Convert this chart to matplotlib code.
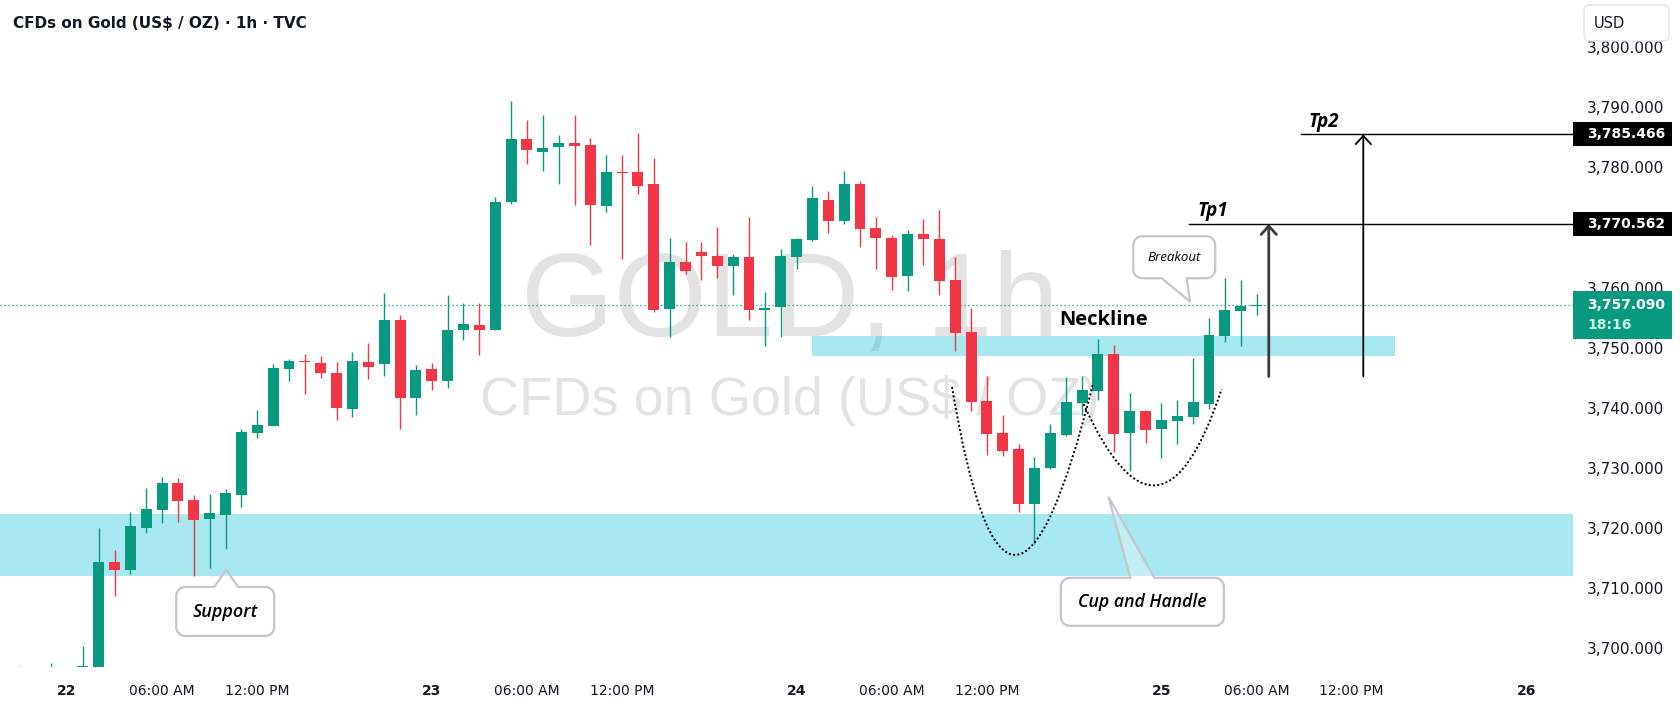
import numpy as np
import matplotlib
matplotlib.use('Agg')
import matplotlib.pyplot as plt
import matplotlib.transforms as mtransforms
from matplotlib.patches import Rectangle, Polygon, FancyBboxPatch, PathPatch
from matplotlib.path import Path

# hourly candles, bar index 0 = 22nd 00:00 (23 bars per trading day)
bar_index = list(range(-3, 76))
opens = [3694.0, 3691.0, 3693.0, 3695.0, 3694.0, 3696.5, 3714.3, 3713.0, 3720.0, 3723.0,
         3727.5, 3724.6, 3721.5, 3722.2, 3725.5, 3735.8, 3737.0, 3746.5, 3747.8, 3747.4,
         3745.8, 3739.8, 3747.6, 3747.2, 3754.6, 3741.7, 3746.4, 3744.5, 3752.9, 3753.8,
         3752.9, 3774.2, 3784.7, 3782.6, 3783.3, 3784.05, 3783.7, 3773.6, 3779.2, 3779.2,
         3777.2, 3756.5, 3764.25, 3765.9, 3765.2, 3763.6, 3765.1, 3756.3, 3756.8, 3765.1,
         3767.9, 3774.6, 3771.0, 3777.2, 3769.9, 3768.2, 3762.0, 3768.9, 3768.1, 3761.25,
         3752.6, 3741.1, 3735.8, 3733.1, 3724.0, 3730.0, 3735.5, 3740.8, 3742.85, 3748.9,
         3735.8, 3739.45, 3736.5, 3737.85, 3738.5, 3740.7, 3752.0, 3756.15, 3757.0]
highs = [3697.0, 3695.5, 3697.5, 3696.5, 3700.3, 3720.0, 3716.3, 3722.6, 3726.6, 3728.5,
         3728.3, 3725.5, 3725.6, 3726.5, 3736.5, 3739.6, 3747.3, 3748.1, 3748.9, 3748.6,
         3747.6, 3749.3, 3750.8, 3759.1, 3755.4, 3747.1, 3747.4, 3758.8, 3757.4, 3757.4,
         3775.1, 3791.0, 3787.9, 3788.7, 3785.4, 3788.7, 3784.9, 3782.0, 3782.0, 3785.7,
         3781.55, 3768.2, 3767.5, 3767.6, 3770.1, 3765.6, 3771.8, 3759.2, 3766.4, 3768.2,
         3776.9, 3776.1, 3779.4, 3777.7, 3771.7, 3768.7, 3769.6, 3771.4, 3772.9, 3765.1,
         3756.6, 3745.3, 3738.8, 3734.0, 3731.8, 3737.3, 3745.1, 3745.3, 3751.4, 3750.4,
         3742.45, 3739.6, 3740.8, 3741.3, 3748.3, 3754.9, 3761.6, 3761.25, 3758.9]
lows = [3689.0, 3690.0, 3692.0, 3692.5, 3693.5, 3696.0, 3708.6, 3712.3, 3719.2, 3720.9,
        3721.0, 3712.0, 3713.4, 3716.5, 3723.5, 3735.0, 3736.9, 3744.5, 3742.3, 3745.0,
        3737.9, 3738.5, 3744.8, 3745.3, 3736.5, 3738.8, 3743.0, 3743.2, 3751.2, 3748.8,
        3752.9, 3773.9, 3780.6, 3779.4, 3777.3, 3773.8, 3767.1, 3772.6, 3764.8, 3775.6,
        3756.0, 3751.8, 3762.3, 3761.3, 3761.6, 3758.7, 3754.6, 3750.3, 3751.8, 3763.0,
        3767.8, 3769.0, 3770.5, 3766.8, 3763.0, 3759.6, 3759.5, 3763.8, 3758.8, 3749.5,
        3739.5, 3732.2, 3732.0, 3722.7, 3717.4, 3729.8, 3735.3, 3738.8, 3741.3, 3732.6,
        3729.5, 3734.1, 3731.6, 3734.0, 3737.3, 3739.8, 3751.0, 3750.3, 3755.5]
closes = [3691.0, 3693.0, 3695.0, 3694.0, 3697.0, 3714.3, 3713.0, 3720.3, 3723.2, 3727.5,
          3724.5, 3721.4, 3722.5, 3725.8, 3736.0, 3737.1, 3746.6, 3747.8, 3747.6, 3745.7,
          3739.9, 3747.8, 3746.8, 3754.6, 3741.7, 3746.3, 3744.5, 3752.9, 3753.9, 3752.9,
          3774.2, 3784.7, 3782.8, 3783.2, 3784.05, 3783.6, 3773.8, 3779.2, 3779.1, 3776.95,
          3756.3, 3764.2, 3762.8, 3765.3, 3763.6, 3765.1, 3756.3, 3756.6, 3765.2, 3768.1,
          3774.9, 3771.0, 3777.2, 3769.8, 3768.3, 3761.8, 3768.9, 3768.0, 3761.1, 3752.5,
          3741.0, 3735.7, 3732.85, 3724.0, 3730.0, 3735.8, 3741.0, 3742.95, 3748.9, 3735.6,
          3739.45, 3736.35, 3737.95, 3738.6, 3740.95, 3752.1, 3756.3, 3757.0, 3757.09]

tick_pos = [0, 6, 12, 23, 29, 35, 46, 52, 58, 69, 75, 81, 92]
tick_text = ['22', '06:00 AM', '12:00 PM', '23', '06:00 AM', '12:00 PM',
             '24', '06:00 AM', '12:00 PM', '25', '06:00 AM', '12:00 PM', '26']
# 3,770 sits under the Tp1 badge on the scale, so it is not listed
price_ticks = [3700, 3710, 3720, 3730, 3740, 3750, 3760, 3780, 3790, 3800]

last_price = 3757.09
tp1 = 3770.562
tp2 = 3785.466
support_zone = (3712.0, 3722.3)
neck_zone = (3748.65, 3751.93)
neck_span = (47.0, 83.7)

cup_curve = [(55.8, 3743.45), (59.8, 3715.5), (64.7, 3744.1)]
handle_curve = [(64.1, 3740.6), (68.7, 3727.1), (72.8, 3743.1)]

UP = '#089981'
DOWN = '#F23645'
ZONE = (0 / 255, 188 / 255, 212 / 255, 0.34)
INK = '#131722'
FONTS = ['Open Sans', 'DejaVu Sans']

fig = plt.figure(figsize=(16.8, 7.1), dpi=100)
ax = fig.add_axes([0, 43 / 710, 1573 / 1680, 667 / 710])
ax.set_xlim(-4.22, 94.95)
ax.set_ylim(3696.86, 3807.84)
for s in ax.spines.values():
    s.set_visible(False)

# watermark
ax.text(0.502, 0.4963, 'GOLD, 1h', transform=ax.transAxes, ha='center', va='baseline',
        fontsize=86, family='Liberation Sans', color='#e3e3e3', zorder=0)
ax.text(0.502, 0.3778, 'CFDs on Gold (US$ / OZ)', transform=ax.transAxes, ha='center',
        va='baseline', fontsize=39, family='Liberation Sans', color='#e3e3e3', zorder=0)

# zones
ax.axhspan(*support_zone, color=ZONE, lw=0, zorder=1)
ax.add_patch(Rectangle((neck_span[0], neck_zone[0]), neck_span[1] - neck_span[0],
                       neck_zone[1] - neck_zone[0], color=ZONE, lw=0, zorder=1))

# current price line
ax.axhline(last_price, color=UP, lw=0.9, ls=(0, (1, 2.2)), zorder=2)

# candles
x = np.array(bar_index)
o, h, l, c = map(np.array, (opens, highs, lows, closes))
colors = np.where(c >= o, UP, DOWN)
ax.vlines(x, l, h, colors=colors, lw=1.0, zorder=3)
ax.bar(x, np.maximum(np.abs(c - o), 0.17), bottom=np.minimum(o, c), width=0.69,
       color=colors, lw=0, zorder=4)

# cup and handle curves
for p0, mid, p2 in (cup_curve, handle_curve):
    ctrl = (2 * mid[0] - (p0[0] + p2[0]) / 2, 2 * mid[1] - (p0[1] + p2[1]) / 2)
    path = Path([p0, ctrl, p2], [Path.MOVETO, Path.CURVE3, Path.CURVE3])
    ax.add_patch(PathPatch(path, fill=False, ec='black', lw=1.4, ls=(0, (1, 1.2)), zorder=5))

# targets
ax.plot([70.75, 96], [tp1, tp1], color='black', lw=1.0, zorder=6)
ax.plot([77.8, 96], [tp2, tp2], color='black', lw=1.0, zorder=6)
ax.annotate('', xy=(75.77, tp1), xytext=(75.77, 3745.2),
            arrowprops=dict(arrowstyle='->,head_length=0.6,head_width=0.55',
                            color='#3a3a3a', lw=2.0, shrinkA=0, shrinkB=0), zorder=6)
ax.annotate('', xy=(81.73, tp2), xytext=(81.73, 3745.2),
            arrowprops=dict(arrowstyle='->,head_length=0.6,head_width=0.55',
                            color='black', lw=1.3, shrinkA=0, shrinkB=0), zorder=6)
ax.text(71.25, 3771.9, 'Tp1', ha='left', va='baseline', fontsize=13.5,
        fontweight='bold', fontstyle='italic', family=FONTS, color='black', zorder=7)
ax.text(78.25, 3786.7, 'Tp2', ha='left', va='baseline', fontsize=13.5,
        fontweight='bold', fontstyle='italic', family=FONTS, color='black', zorder=7)
ax.text(65.38, 3753.76, 'Neckline', ha='center', va='baseline', fontsize=14.5,
        fontweight='bold', family=FONTS, color='black', zorder=7)


def callout(text, center, size, tip, base, side, baseline, fontsize, weight):
    cx, cy = ax.transData.transform(center)
    tx, ty = ax.transData.transform(tip)
    w, hh = size
    r = 9
    x0, x1, y0, y1 = cx - w / 2, cx + w / 2, cy - hh / 2, cy + hh / 2
    b0, b1 = cx + base[0], cx + base[1]
    pts = []

    def arc(xc, yc, a0, a1):
        for a in np.radians(np.linspace(a0, a1, 10)):
            pts.append((xc + r * np.cos(a), yc + r * np.sin(a)))

    arc(x0 + r, y0 + r, 180, 270)
    if side == 'bottom':
        pts.extend([(b0, y0), (tx, ty), (b1, y0)])
    arc(x1 - r, y0 + r, 270, 360)
    arc(x1 - r, y1 - r, 0, 90)
    if side == 'top':
        pts.extend([(b1, y1), (tx, ty), (b0, y1)])
    arc(x0 + r, y1 - r, 90, 180)
    ax.add_patch(Polygon(pts, closed=True, transform=mtransforms.IdentityTransform(),
                         fc=(1, 1, 1, 0.3), ec='#c3c6cf', lw=1.6, zorder=8))
    ax.text(center[0], baseline, text, ha='center', va='baseline', fontsize=fontsize,
            fontweight=weight, fontstyle='italic', family=FONTS, color='black', zorder=9)


callout('Support', (9.98, 3706.1), (98, 49), (10.03, 3713.0), (-11, 13), 'top',
        3705.12, 13, 'semibold')
callout('Cup and Handle', (67.8, 3707.7), (163, 48), (65.66, 3725.2), (-12, 12), 'top',
        3706.89, 12.7, 'semibold')
callout('Breakout', (69.81, 3765.04), (82, 42), (70.81, 3757.64), (-12.5, 12.5), 'bottom',
        3764.41, 9.5, 'medium')

# axes ticks
ax.yaxis.tick_right()
ax.set_yticks(price_ticks, [f'{v:,.3f}' for v in price_ticks])
ax.tick_params(axis='y', length=0, pad=10, labelsize=11, labelcolor=INK)
ax.set_xticks(tick_pos, tick_text)
ax.tick_params(axis='x', length=0, pad=12, labelsize=10, labelcolor=INK)
for lbl in ax.get_xticklabels():
    if lbl.get_text().isdigit():
        lbl.set_fontweight('bold')

# price badges on the scale
blend = mtransforms.blended_transform_factory(ax.transAxes, ax.transData)
for price in (tp2, tp1):
    ax.add_patch(Rectangle((1.0, price - 2.0), 0.0629, 4.0, transform=blend, fc='black',
                           lw=0, clip_on=False, zorder=10))
    ax.text(1.0089, price, f'{price:,.3f}', transform=blend, ha='left', va='center',
            fontsize=10, fontweight='bold', color='white', clip_on=False, zorder=11)
ax.add_patch(Rectangle((1.0, last_price - 5.66), 0.0629, 7.99, transform=blend, fc=UP,
                       lw=0, clip_on=False, zorder=10))
ax.text(1.0089, last_price, f'{last_price:,.3f}', transform=blend, ha='left', va='center',
        fontsize=10, fontweight='bold', color='white', clip_on=False, zorder=11)
ax.text(1.0089, last_price - 3.4, '18:16', transform=blend, ha='left', va='center',
        fontsize=10, fontweight='bold', color='#cdeee6', clip_on=False, zorder=11)

# currency box and title
fig.add_artist(FancyBboxPatch((1584, 669), 85, 36, boxstyle='round,pad=0,rounding_size=6',
                              transform=mtransforms.IdentityTransform(), fc='white',
                              ec='#e0e3eb', lw=1.0, zorder=10))
fig.text(1594 / 1680, 687 / 710, 'USD', ha='left', va='center', fontsize=10.5,
         color=INK, zorder=11)
fig.text(13 / 1680, 1 - 23.6 / 710, 'CFDs on Gold (US$ / OZ) · 1h · TVC', ha='left',
         va='center', fontsize=11, fontweight='bold', color=INK)

fig.savefig('out.png', dpi=100)
